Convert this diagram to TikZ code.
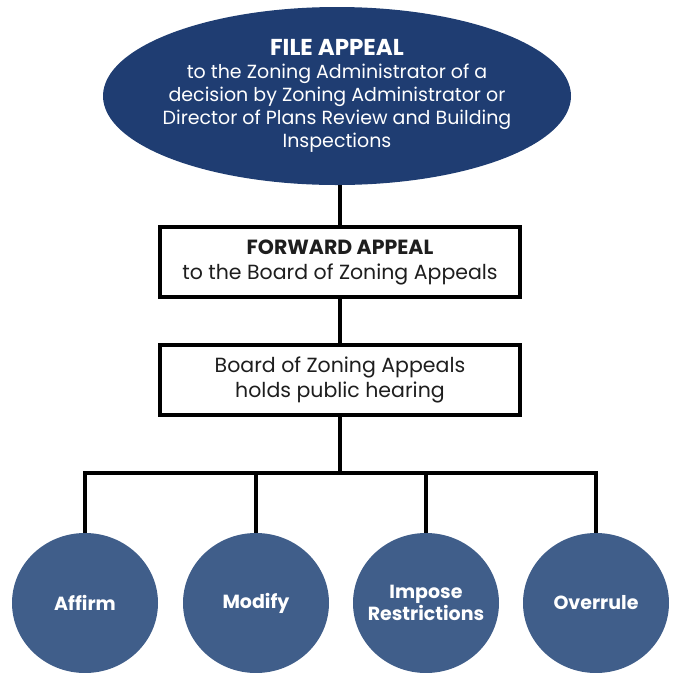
\documentclass[tikz,border=0pt]{standalone}
\usepackage{fontspec}
\setmainfont{Poppins}
\usetikzlibrary{shapes.geometric}
\definecolor{navy}{RGB}{31,61,114}
\definecolor{slate}{RGB}{64,94,138}
\definecolor{ink}{RGB}{30,30,30}
\tikzset{
  conn/.style={line width=4pt, draw=black},
  topell/.style={ellipse, fill=navy, minimum width=468pt, minimum height=178pt, inner xsep=-20pt, inner ysep=-10pt, text=white, align=center, font=\fontsize{19}{23}\selectfont},
  stepbox/.style={rectangle, draw=black, line width=4pt, fill=white, minimum width=360pt, minimum height=70pt, inner sep=0pt, text=ink, align=center, font=\fontsize{20.5}{25}\selectfont},
  outcome/.style={ellipse, fill=slate, minimum width=146pt, minimum height=140pt, inner xsep=-30pt, inner ysep=-10pt, text=white, align=center, font=\bfseries\fontsize{19}{22}\selectfont}
}
\begin{document}
\begin{tikzpicture}[x=1pt,y=-1pt]
\useasboundingbox (0,0) rectangle (673,673);
\node[topell] (appeal) at (337,96) {\textbf{\fontsize{23}{27}\selectfont FILE APPEAL}\\to the Zoning Administrator of a\\decision by Zoning Administrator or\\Director of Plans Review and Building\\Inspections};
\node[stepbox] (fwd) at (340,262) {\textbf{FORWARD APPEAL}\\to the Board of Zoning Appeals};
\node[stepbox] (bza) at (340,380) {Board of Zoning Appeals\\holds public hearing};
\node[outcome] (c1) at (85,603) {Affirm};
\node[outcome] (c2) at (256,603) {Modify};
\node[outcome] (c3) at (426,603) {Impose\\Restrictions};
\node[outcome] (c4) at (596,603) {Overrule};
\coordinate (j) at (340,473);
\begin{scope}[on background layer/.try]
\draw[conn] (appeal.south -| fwd.north) -- (fwd.north);
\draw[conn] (fwd.south) -- (bza.north);
\draw[conn] (bza.south) -- (j);
\draw[conn, line join=miter] (c1.north) |- (j);
\draw[conn, line join=miter] (c4.north) |- (j);
\draw[conn] (c2.north) -- (c2.north |- j);
\draw[conn] (c3.north) -- (c3.north |- j);
\end{scope}
\end{tikzpicture}
\end{document}
